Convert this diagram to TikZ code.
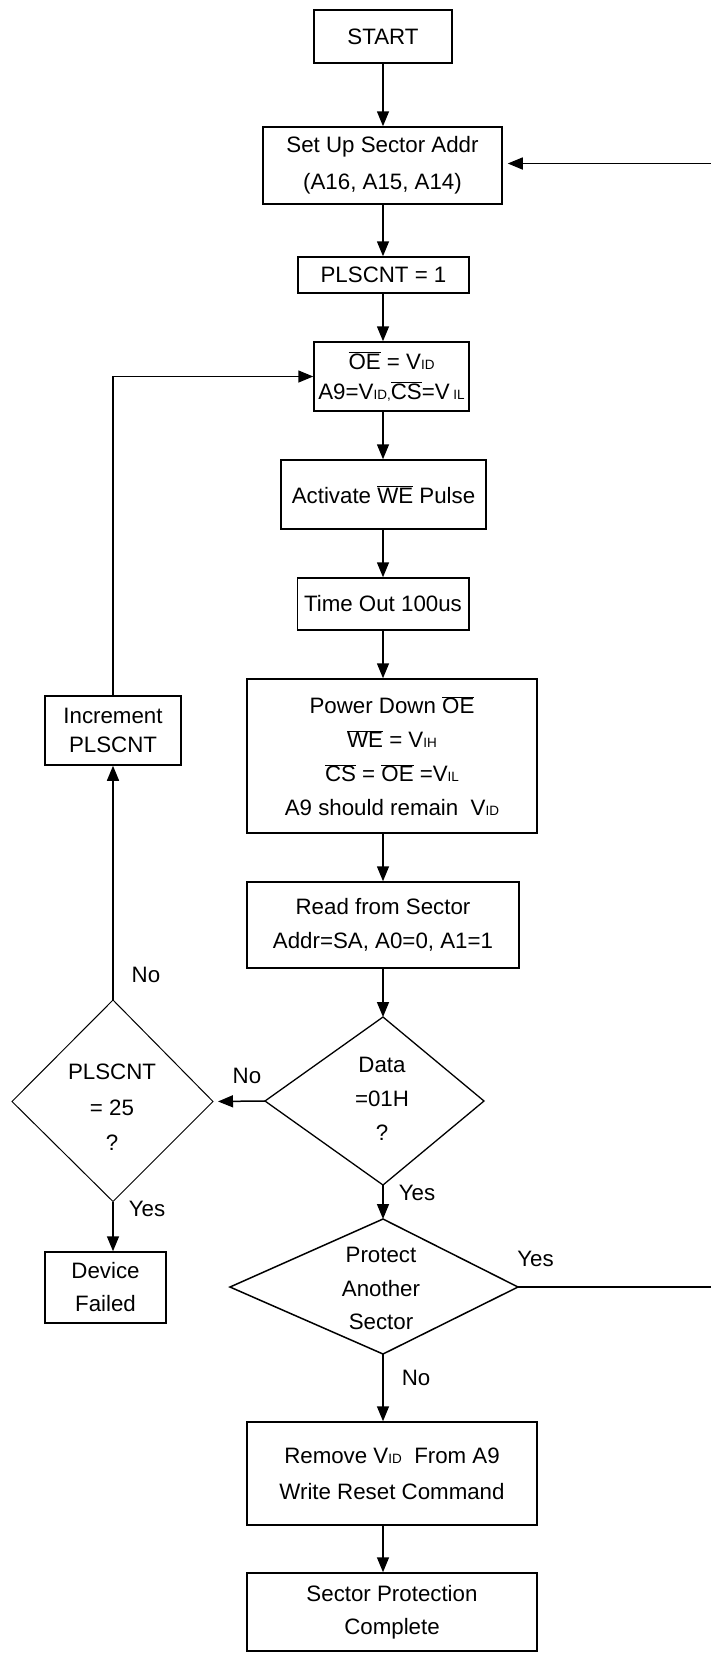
\documentclass[tikz,border=0pt]{standalone}
\usepackage{fontspec}
\setmainfont{Liberation Sans}
\usetikzlibrary{arrows.meta,positioning}

\newcommand{\lowtxt}[1]{{\fontsize{13.5}{13.5}\selectfont #1}}
\newcommand{\ovl}[1]{$\overline{\mbox{#1}}$}

\tikzset{
	box/.style={draw, line width=1.5pt, inner sep=0pt, align=center, font=\fontsize{22.3}{34}\selectfont},
	txt/.style={inner sep=0pt, align=center, font=\fontsize{22.3}{34}\selectfont},
	arr/.style={-{Triangle[length=15pt,width=12pt]}, line width=1.5pt},
	ln/.style={line width=1.5pt}
}

\begin{document}
\begin{tikzpicture}[x=1pt,y=-1pt]
		
		\useasboundingbox (0,0) rectangle (711,1655);
		\coordinate (col) at (383,0);
		
			% main column
			\node[box, minimum width=138pt, minimum height=53pt] (start) at (383,36.5) {START};
			\node[box, minimum width=239pt, minimum height=77pt, font=\fontsize{22.3}{37}\selectfont] (setup) at (382.5,165.5) {Set Up Sector Addr\\(A16, A15, A14)};
			\node[box, minimum width=171pt, minimum height=36pt] (plscnt) at (383.5,275) {PLSCNT = 1};
			\node[box, minimum width=155pt, minimum height=69pt, font=\fontsize{22.3}{30}\selectfont] (oe) at (391.5,376.5) {\ovl{OE} = V\lowtxt{ID}\\A9=V\lowtxt{ID,}\ovl{CS}=V\,\lowtxt{IL}};
			\node[box, minimum width=205pt, minimum height=69pt] (activate) at (383.5,494.5) {Activate \ovl{WE} Pulse};
			\node[box, minimum width=171.5pt, minimum height=52pt] (timeout) at (383,604) {Time Out 100us};
			\node[box, minimum width=290pt, minimum height=154pt] (powerdown) at (392,756) {Power Down \ovl{OE}\\\ovl{WE} = V\lowtxt{IH}\\\ovl{CS} = \ovl{OE} =V\lowtxt{IL}\\A9 should remain\ \ V\lowtxt{ID}};
			\node[box, minimum width=272pt, minimum height=86pt] (readsec) at (383,925) {Read from Sector\\Addr=SA, A0=0, A1=1};
			
			\coordinate (dt) at (383,1017);
			\coordinate (dr) at (484,1101);
			\coordinate (db) at (383,1185);
			\coordinate (dl) at (265,1101);
			\draw[line width=1.3pt] (dt) -- (dr) -- (db) -- (dl) -- cycle;
			\node[txt] (data) at (382,1099) {Data\\=01H\\?};
			
			\coordinate (qt) at (383,1219);
			\coordinate (qr) at (518,1287);
			\coordinate (qb) at (383,1354);
			\coordinate (ql) at (230,1287);
			\draw[ln] (qt) -- (qr) -- (qb) -- (ql) -- cycle;
			\node[txt, font=\fontsize{22.3}{33.5}\selectfont] (prot) at (381,1288.5) {Protect\\Another\\Sector};
			
			\node[box, minimum width=290pt, minimum height=103pt, font=\fontsize{22.3}{36}\selectfont] (remove) at (392,1473.5) {Remove V\lowtxt{ID}\ \ From A9\\Write Reset Command};
			\node[box, minimum width=290pt, minimum height=78pt, font=\fontsize{22.3}{33}\selectfont] (complete) at (392,1612) {Sector Protection\\Complete};
			
			% left branch
			\coordinate (ct) at (113,1000);
			\coordinate (cr) at (213,1101.5);
			\coordinate (cb) at (113,1201.5);
			\coordinate (cl) at (12,1101.5);
			\draw[line width=1pt] (ct) -- (cr) -- (cb) -- (cl) -- cycle;
			\node[txt, font=\fontsize{22.3}{35.5}\selectfont] (cnt) at (112,1107.5) {PLSCNT\\= 25\\?};
			
			\node[box, minimum width=136pt, minimum height=69pt, font=\fontsize{22.3}{29}\selectfont] (incr) at (113,730.5) {Increment\\PLSCNT};
			\node[box, minimum width=121pt, minimum height=71pt, font=\fontsize{22.3}{33}\selectfont] (device) at (105.5,1287.5) {Device\\Failed};
			
			\coordinate (edgetop) at (711,163.5);
			\coordinate (edgebot) at (711,1287);
			
			\foreach \a/\b in {start/setup, setup/plscnt, plscnt/oe, oe/activate, activate/timeout, timeout/powerdown, powerdown/readsec, remove/complete}
				\draw[arr] (col |- \a.south) -- (col |- \b.north);
			
			\draw[arr] (col |- readsec.south) -- (dt);
			\draw[arr] (db) -- (qt);
			\draw[arr] (qb) -- (col |- remove.north);
			
			\draw[arr, shorten >=5pt] (dl) -- (cr);
			\draw[arr] (cb) -- (cb |- device.north);
			\draw[arr] (ct) -- (incr.south);
			\draw[arr] (incr.north) |- (oe.west);
			
			\draw[arr, shorten >=5pt] (edgetop) -- (setup.east |- edgetop);
			\draw[ln] (qr) -- (edgebot);
			
			\node[txt] (noup) at (146,975) {No};
			\node[txt] (noleft) at (247,1076) {No};
			\node[txt] (yesdata) at (417,1193) {Yes};
			\node[txt] (yescnt) at (147,1209) {Yes};
			\node[txt] (yesprot) at (535.5,1259) {Yes};
			\node[txt] (noprot) at (416,1378) {No};
			
		\end{tikzpicture}
\end{document}
